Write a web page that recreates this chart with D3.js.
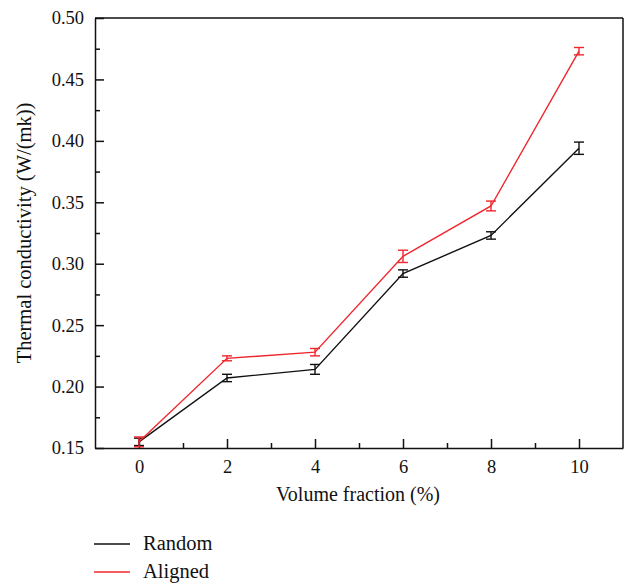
<!DOCTYPE html>
<html>
<head>
  <meta charset="utf-8">
  <title>Thermal conductivity</title>
  <script src="https://cdn.jsdelivr.net/npm/d3@7/dist/d3.min.js"></script>
  <style>
    body { margin: 0; background: #fff; }
    text { font-family: "Liberation Serif", "DejaVu Serif", serif; fill: #111; }
    .axis path, .axis line { stroke: #111; stroke-width: 1.5; }
    .axis text { font-size: 18.5px; }
  </style>
</head>
<body>
<div id="chart"></div>
<script>
  const fractions = [0, 2, 4, 6, 8, 10];
  const randomVals = [0.155, 0.207, 0.214, 0.292, 0.323, 0.394];
  const randomErr = [0.003, 0.003, 0.004, 0.003, 0.003, 0.005];
  const alignedVals = [0.155, 0.223, 0.228, 0.306, 0.347, 0.473];
  const alignedErr = [0.004, 0.002, 0.003, 0.005, 0.004, 0.003];
  const xTicks = [0, 2, 4, 6, 8, 10];
  const yTicks = [0.15, 0.20, 0.25, 0.30, 0.35, 0.40, 0.45, 0.50];

  const W = 626, H = 584;
  const margin = { left: 95, top: 18, right: 3, bottom: 136 };

  const svg = d3.select('#chart').append('svg')
    .attr('width', W).attr('height', H);

  const x = d3.scaleLinear().domain([-1, 11]).range([margin.left, W - margin.right]);
  const y = d3.scaleLinear().domain([0.15, 0.50]).range([H - margin.bottom, margin.top]);

  // minor ticks
  svg.append('g').attr('class', 'axis')
    .attr('transform', `translate(${margin.left},0)`)
    .call(d3.axisLeft(y).tickValues(d3.range(0.175, 0.5, 0.05)).tickSize(-5).tickFormat(''))
    .call(g => g.select('.domain').remove());
  svg.append('g').attr('class', 'axis')
    .attr('transform', `translate(0,${H - margin.bottom})`)
    .call(d3.axisBottom(x).tickValues([1, 3, 5, 7, 9]).tickSize(-5).tickFormat(''))
    .call(g => g.select('.domain').remove());

  // major axes
  svg.append('g').attr('class', 'axis')
    .attr('transform', `translate(${margin.left},0)`)
    .call(d3.axisLeft(y).tickValues(yTicks).tickSize(-9).tickSizeOuter(0).tickPadding(11).tickFormat(d3.format('.2f')));
  svg.append('g').attr('class', 'axis')
    .attr('transform', `translate(0,${H - margin.bottom})`)
    .call(d3.axisBottom(x).tickValues(xTicks).tickSize(-9).tickSizeOuter(0).tickPadding(12));

  // top and right frame
  svg.append('line').attr('x1', margin.left).attr('x2', W - margin.right)
    .attr('y1', margin.top).attr('y2', margin.top).attr('stroke', '#111').attr('stroke-width', 1.5);
  svg.append('line').attr('x1', W - margin.right).attr('x2', W - margin.right)
    .attr('y1', margin.top).attr('y2', H - margin.bottom).attr('stroke', '#111').attr('stroke-width', 1.5);

  const series = [
    { name: 'Random', vals: randomVals, err: randomErr, color: '#111' },
    { name: 'Aligned', vals: alignedVals, err: alignedErr, color: '#f0262d' }
  ];

  const line = d3.line().x(d => x(d[0])).y(d => y(d[1]));

  series.forEach(s => {
    const pts = fractions.map((f, i) => [f, s.vals[i], s.err[i]]);
    svg.append('path').datum(pts)
      .attr('d', line).attr('fill', 'none')
      .attr('stroke', s.color).attr('stroke-width', 1.4);
    const eb = svg.append('g').attr('stroke', s.color).attr('stroke-width', 1.4);
    pts.forEach(p => {
      eb.append('line').attr('x1', x(p[0])).attr('x2', x(p[0]))
        .attr('y1', y(p[1] - p[2])).attr('y2', y(p[1] + p[2]));
      [p[1] - p[2], p[1] + p[2]].forEach(v => {
        eb.append('line').attr('x1', x(p[0]) - 5).attr('x2', x(p[0]) + 5)
          .attr('y1', y(v)).attr('y2', y(v));
      });
    });
  });

  // axis titles
  svg.append('text')
    .attr('x', 358).attr('y', 501)
    .attr('text-anchor', 'middle').style('font-size', '20px')
    .text('Volume fraction (%)');
  svg.append('text')
    .attr('transform', `translate(31,${(margin.top + H - margin.bottom) / 2}) rotate(-90)`)
    .attr('text-anchor', 'middle').style('font-size', '20.5px')
    .text('Thermal conductivity (W/(mk))');

  // legend
  const legend = svg.append('g');
  series.forEach((s, i) => {
    const ly = 544 + i * 28;
    legend.append('line').attr('x1', 94).attr('x2', 130)
      .attr('y1', ly).attr('y2', ly).attr('stroke', s.color).attr('stroke-width', 1.4);
    legend.append('text').attr('x', 143).attr('y', ly + 6)
      .style('font-size', '20.5px').text(s.name);
  });
</script>
</body>
</html>
